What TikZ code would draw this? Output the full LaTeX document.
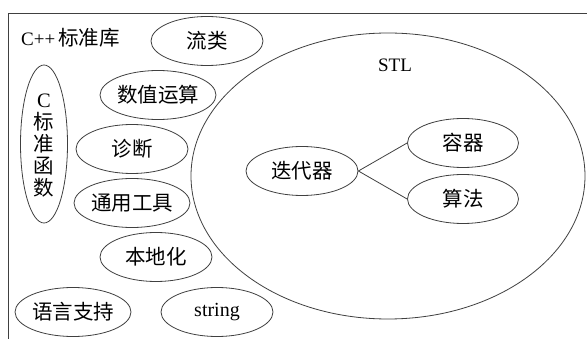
\documentclass[tikz,border=0pt]{standalone}
\usepackage{fontspec}
\setmainfont{Liberation Serif}
\newfontfamily\cjk{Noto Sans CJK SC}
\usetikzlibrary{shapes.geometric}
\begin{document}
\begin{tikzpicture}[x=1pt,y=-1pt,
  lc/.style={draw=black!75, line width=0.8pt},
  ov/.style={lc, ellipse, inner sep=0pt, minimum width=112pt, minimum height=49pt, font=\fontsize{20.5}{22}\selectfont\cjk},
  lbl/.style={inner sep=0pt, font=\fontsize{19}{21}\selectfont}]
\useasboundingbox (0,0) rectangle (587,339);
\fill[white] (0,0) rectangle (587,339);
\coordinate (tl) at (8,13);
\coordinate (tr) at (587,13);
\coordinate (bl) at (8,339);
\draw[lc] (tr) -- (tl) -- (bl);
% text
\node[lbl, anchor=west] (title) at (21,38) {C++\,{\cjk\fontsize{20.5}{22}\selectfont 标准库}};
% STL big ellipse
\node[lc, ellipse, minimum width=394pt, minimum height=286pt, inner sep=0pt] (stl) at (388,176) {};
\node[lbl] (stltxt) at (395,65) {STL};
\node[ov] (iter) at (302,171) {迭代器};
\node[ov, minimum width=111pt] (cont) at (463,143) {容器};
\node[ov, minimum width=111pt] (algo) at (463,199) {算法};
\draw[lc] (iter.east) -- (cont.west);
\draw[lc] (iter.east) -- (algo.west);
% left ellipses
\node[ov] (stream) at (207,41) {流类};
\node[ov] (num) at (158,95) {数值运算};
\node[ov] (diag) at (132,149) {诊断};
\node[lc, ellipse, inner sep=0pt, minimum width=47pt, minimum height=158pt] (cfun) at (44,144) {};
\node[lbl, align=center, font=\fontsize{20.5}{22}\selectfont] (cfuntxt) at (44,146) {C\\{\cjk 标}\\{\cjk 准}\\{\cjk 函}\\{\cjk 数}};
\node[ov] (util) at (132,203) {通用工具};
\node[ov] (loc) at (156,257) {本地化};
\node[ov] (lang) at (73,312) {语言支持};
\node[ov, font=\fontsize{20}{22}\selectfont] (str) at (217,312) {string};
\end{tikzpicture}
\end{document}
